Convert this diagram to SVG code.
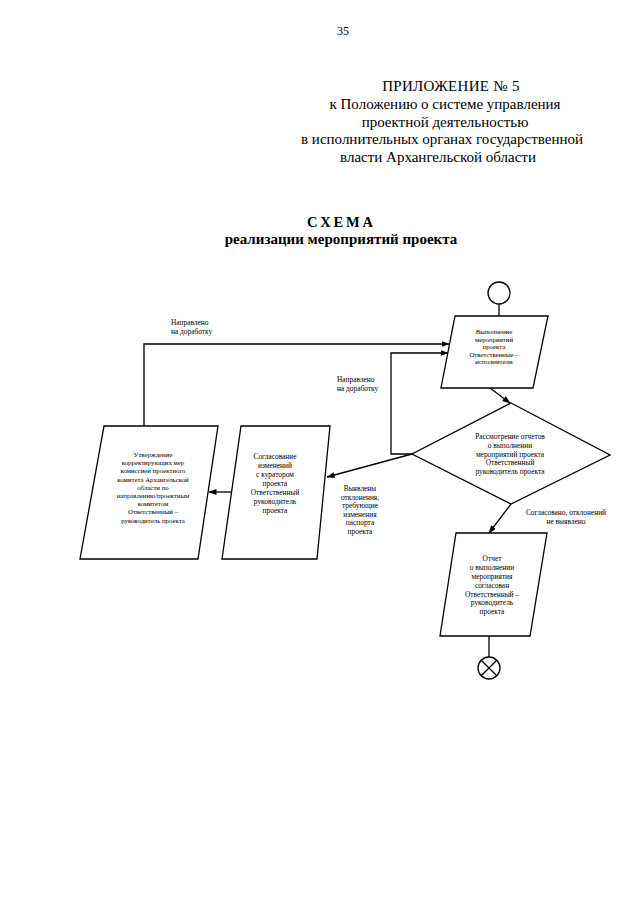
<svg xmlns="http://www.w3.org/2000/svg" width="640" height="905" viewBox="0 0 640 905">
<style>
.hd{font-family:"Liberation Serif","Times New Roman",serif;fill:#000}
.t{font-family:"Liberation Serif","Times New Roman",serif;font-size:7.4px;fill:#000;text-anchor:middle}
.ts{font-family:"Liberation Serif","Times New Roman",serif;font-size:6.8px;fill:#000;text-anchor:middle}
.l{font-family:"Liberation Serif","Times New Roman",serif;font-size:7.4px;fill:#000}
.s{fill:#fff;stroke:#000;stroke-width:1.3}
.c{fill:none;stroke:#000;stroke-width:1.3}
</style>
<defs>
<marker id="ah" markerWidth="8" markerHeight="6" refX="7.5" refY="3" orient="auto" markerUnits="userSpaceOnUse">
<path d="M0,0 L8,3 L0,6 Z" fill="#000"/>
</marker>
</defs>
<rect width="640" height="905" fill="#fff"/>
<g id="header">
<text class="hd" x="343" y="35" font-size="12" text-anchor="middle">35</text>
<text class="hd" x="451" y="91" font-size="15" text-anchor="middle" letter-spacing="0.3">ПРИЛОЖЕНИЕ № 5</text>
<text class="hd" x="445" y="109" font-size="15" text-anchor="middle">к Положению о системе управления</text>
<text class="hd" x="445" y="127" font-size="15" text-anchor="middle">проектной деятельностью</text>
<text class="hd" x="442" y="144" font-size="15" text-anchor="middle">в исполнительных органах государственной</text>
<text class="hd" x="438" y="162" font-size="15" text-anchor="middle">власти Архангельской области</text>
<text class="hd" x="340" y="227" font-size="14.5" font-weight="bold" text-anchor="middle" textLength="66" lengthAdjust="spacing">С Х Е М А</text>
<text class="hd" x="341" y="244" font-size="15" font-weight="bold" text-anchor="middle">реализации мероприятий проекта</text>
</g>
<g id="connectors">
<line class="c" x1="499" y1="304" x2="499" y2="316"/>
<polyline class="c" points="144,426 144,344 449,344" marker-end="url(#ah)"/>
<polyline class="c" points="412,454 391,454 391,353 448,353" marker-end="url(#ah)"/>
<line class="c" x1="490" y1="388" x2="510" y2="403" marker-end="url(#ah)"/>
<line class="c" x1="412" y1="454" x2="327" y2="477" marker-end="url(#ah)"/>
<line class="c" x1="236" y1="492" x2="209" y2="492" marker-end="url(#ah)"/>
<line class="c" x1="511" y1="504" x2="489" y2="533" marker-end="url(#ah)"/>
<line class="c" x1="489" y1="636" x2="489" y2="657"/>
</g>
<g id="start">
<circle class="s" cx="499" cy="293" r="11"/>
</g>
<g id="n-exec">
<polygon class="s" points="455,316 548,316 533,388 441,388"/>
<text class="ts" x="494" y="334">Выполнение</text>
<text class="ts" x="494" y="341.5">мероприятий</text>
<text class="ts" x="494" y="349">проекта</text>
<text class="ts" x="494" y="356.5">Ответственные –</text>
<text class="ts" x="494" y="364">исполнители</text>
</g>
<g id="n-review">
<polygon class="s" points="511,403 610,455 511,504 412,454"/>
<text class="t" x="510" y="439">Рассмотрение отчетов</text>
<text class="t" x="510" y="448">о выполнении</text>
<text class="t" x="510" y="456.5">мероприятий проекта</text>
<text class="t" x="510" y="465">Ответственный</text>
<text class="t" x="510" y="474">руководитель проекта</text>
</g>
<g id="n-approve">
<polygon class="s" points="104,426 218,426 198,559 80,559"/>
<text class="ts" x="153" y="457">Утверждение</text>
<text class="ts" x="153" y="465.2">корректирующих мер</text>
<text class="ts" x="153" y="473.4">комиссией проектного</text>
<text class="ts" x="153" y="481.6">комитета Архангельской</text>
<text class="ts" x="153" y="489.8">области по</text>
<text class="ts" x="153" y="498">направлению/проектным</text>
<text class="ts" x="153" y="506.2">комитетом</text>
<text class="ts" x="153" y="514.4">Ответственный –</text>
<text class="ts" x="153" y="522.6">руководитель проекта</text>
</g>
<g id="n-agree">
<polygon class="s" points="241,426 330,426 317,559 222,559"/>
<text class="t" x="275" y="459">Согласование</text>
<text class="t" x="275" y="468">изменений</text>
<text class="t" x="275" y="477">с куратором</text>
<text class="t" x="275" y="486">проекта</text>
<text class="t" x="275" y="495">Ответственный</text>
<text class="t" x="275" y="504">руководитель</text>
<text class="t" x="275" y="513">проекта</text>
</g>
<g id="n-report">
<polygon class="s" points="456,533 547,533 530,636 440,636"/>
<text class="t" x="492" y="561">Отчет</text>
<text class="t" x="492" y="570">о выполнении</text>
<text class="t" x="492" y="579">мероприятия</text>
<text class="t" x="492" y="588">согласован</text>
<text class="t" x="492" y="596.5">Ответственный –</text>
<text class="t" x="492" y="605">руководитель</text>
<text class="t" x="492" y="613.5">проекта</text>
</g>
<g id="end">
<circle class="s" cx="489" cy="668" r="11"/>
<line class="c" x1="481.2" y1="660.2" x2="496.8" y2="675.8"/>
<line class="c" x1="496.8" y1="660.2" x2="481.2" y2="675.8"/>
</g>
<g id="labels">
<text class="l" x="171" y="325">Направлено</text>
<text class="l" x="171" y="334">на доработку</text>
<text class="l" x="337" y="382">Направлено</text>
<text class="l" x="337" y="391">на доработку</text>
<text class="t" x="360" y="491">Выявлены</text>
<text class="t" x="360" y="499.5">отклонения,</text>
<text class="t" x="360" y="508">требующие</text>
<text class="t" x="360" y="516.5">изменения</text>
<text class="t" x="360" y="525">паспорта</text>
<text class="t" x="360" y="533.5">проекта</text>
<text class="t" x="566" y="515">Согласовано, отклонений</text>
<text class="t" x="566" y="523.5">не выявлено</text>
</g>
</svg>
